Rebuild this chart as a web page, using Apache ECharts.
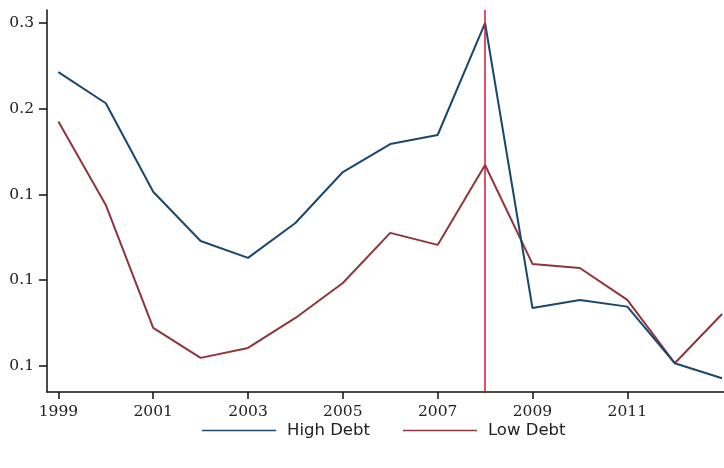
<!DOCTYPE html>
<html>
<head>
<meta charset="utf-8">
<script src="https://cdn.jsdelivr.net/npm/echarts@6/dist/echarts.min.js"></script>
<style>
  html, body { margin: 0; padding: 0; background: #fff; }
  #chart { width: 724px; height: 468px; }
</style>
</head>
<body>
<div id="chart"></div>
<script>
// Years on the horizontal axis
const years = [1999, 2000, 2001, 2002, 2003, 2004, 2005, 2006, 2007, 2008, 2009, 2010, 2011, 2012, 2013];
// Labelled year ticks
const yearTicks = [1999, 2001, 2003, 2005, 2007, 2009, 2011];
// Series values
const highDebt = [0.2214, 0.2032, 0.1516, 0.1229, 0.1130, 0.1334, 0.1631, 0.1794, 0.1847, 0.2500, 0.0838, 0.0885, 0.0846, 0.0516, 0.0428];
const lowDebt  = [0.1925, 0.1439, 0.0722, 0.0547, 0.0605, 0.0780, 0.0984, 0.1276, 0.1206, 0.1672, 0.1095, 0.1071, 0.0885, 0.0516, 0.0803];
// Vertical tick positions and their printed (one-decimal) labels
const yTickValues = [0.05, 0.10, 0.15, 0.20, 0.25];
const yTickLabels = ['0.1', '0.1', '0.1', '0.2', '0.3'];
// Year of the vertical reference line
const markYear = 2008;

const BLUE = '#1a476f';
const RED = '#90353b';

const pairs = (vals) => years.map((y, i) => [y, vals[i]]);

const tickFont = { fontFamily: 'DejaVu Serif', fontSize: 15.5, color: '#222' };
const axisLine = { show: true, lineStyle: { color: '#111', width: 1.5 } };

const chart = echarts.init(document.getElementById('chart'), null, { renderer: 'canvas' });
chart.setOption({
  animation: false,
  backgroundColor: '#fff',
  grid: { left: 47, right: 0, top: 10, bottom: 76 },
  legend: {
    top: 417,
    left: 197,
    icon: 'rect',
    itemWidth: 74,
    itemHeight: 1.3,
    itemGap: 33,
    textStyle: { fontFamily: 'DejaVu Sans', fontSize: 16.5, color: '#222', padding: [0, 0, 0, 6] },
    data: [
      { name: 'High Debt', itemStyle: { color: BLUE } },
      { name: 'Low Debt', itemStyle: { color: RED } }
    ]
  },
  xAxis: {
    type: 'value',
    min: 1998.76,
    max: 2013.04,
    axisLine: axisLine,
    splitLine: { show: false },
    axisTick: { show: true, customValues: yearTicks, length: 7, lineStyle: { color: '#111', width: 1.5 } },
    axisLabel: { customValues: yearTicks, margin: 12, formatter: (v) => String(v), ...tickFont }
  },
  yAxis: {
    type: 'value',
    min: 0.0348,
    max: 0.2576,
    axisLine: axisLine,
    splitLine: { show: false },
    axisTick: { show: true, customValues: yTickValues, length: 8, lineStyle: { color: '#111', width: 1.5 } },
    axisLabel: {
      customValues: yTickValues,
      margin: 13,
      formatter: (v) => {
        const i = yTickValues.findIndex(t => Math.abs(t - v) < 1e-6);
        return i >= 0 ? yTickLabels[i] : '';
      },
      ...tickFont
    }
  },
  series: [
    {
      name: 'High Debt',
      type: 'line',
      data: pairs(highDebt),
      symbol: 'none',
      lineStyle: { color: BLUE, width: 2 },
      itemStyle: { color: BLUE },
      z: 3
    },
    {
      name: 'Low Debt',
      type: 'line',
      data: pairs(lowDebt),
      symbol: 'none',
      lineStyle: { color: RED, width: 2 },
      itemStyle: { color: RED },
      z: 2,
      markLine: {
        silent: true,
        symbol: 'none',
        label: { show: false },
        lineStyle: { color: '#d0143c', width: 1.5, type: 'solid' },
        data: [{ xAxis: markYear }]
      }
    }
  ]
});
</script>
</body>
</html>
